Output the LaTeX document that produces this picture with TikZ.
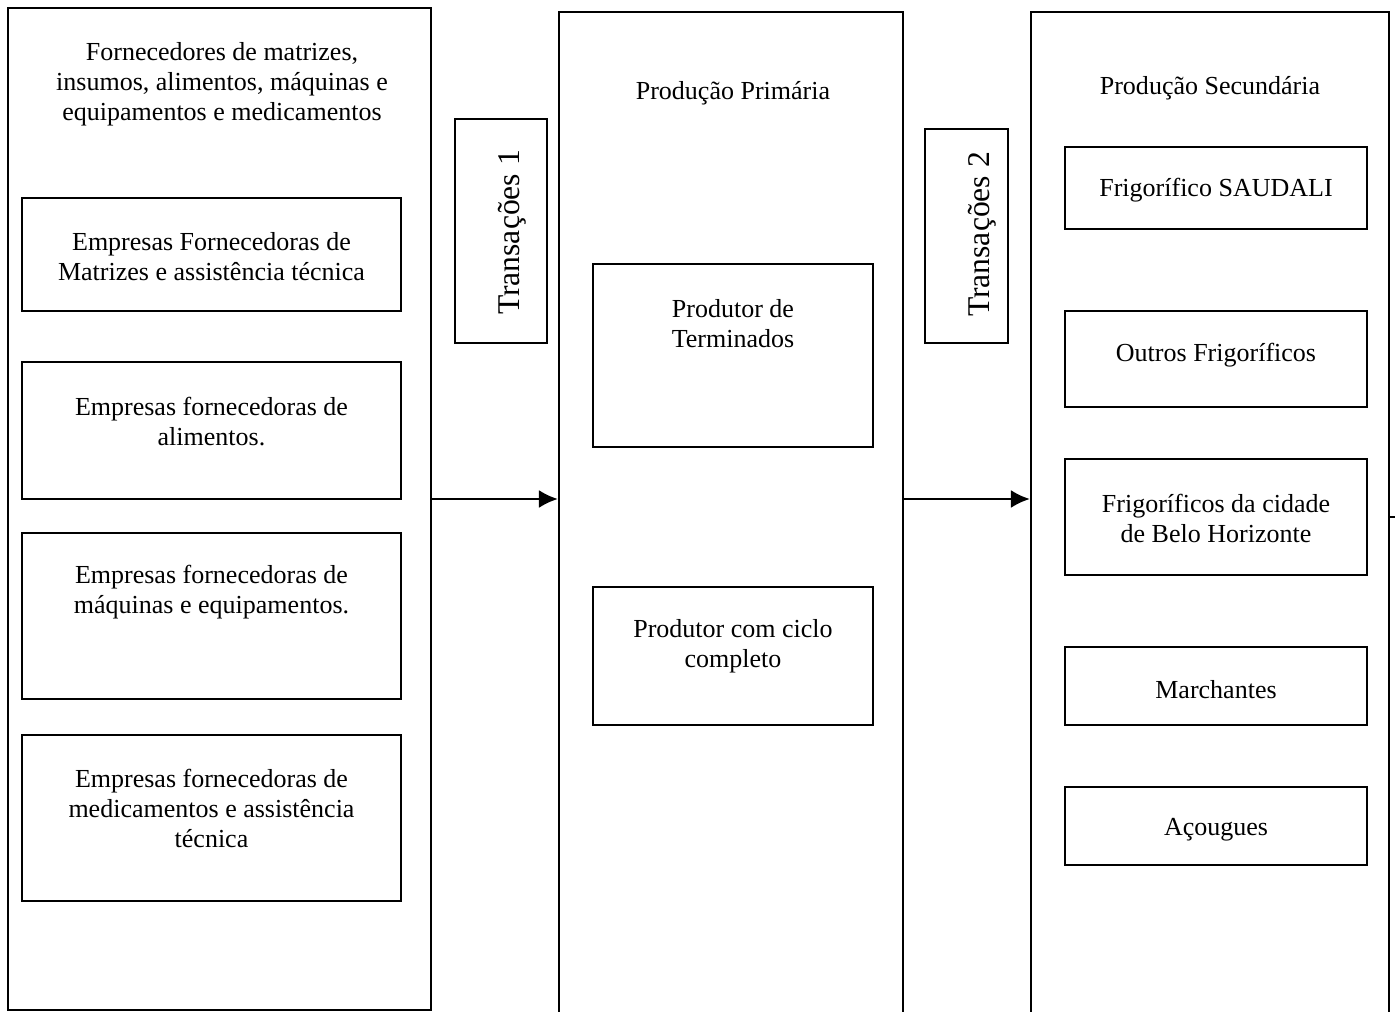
\documentclass[tikz,border=0pt]{standalone}
\usepackage{fontspec}
\setmainfont{Liberation Serif}
\usetikzlibrary{arrows.meta, positioning}

\tikzset{
  coluna/.style={draw, line width=1.2pt, minimum width=#1, inner sep=0pt},
  caixa/.style={draw, line width=1.1pt, inner sep=0pt},
  texto/.style={align=center, inner sep=0pt, font=\fontsize{14.8}{17}\selectfont},
  trans/.style={draw, line width=1.1pt, inner sep=0pt, rotate=90},
  seta/.style={line width=1.5pt, -{Latex[length=3.8mm, width=3.6mm]}}
}

\begin{document}
\begin{tikzpicture}
  \useasboundingbox (0,0) rectangle (27.9,-20.24);

  % colunas
  \node[coluna=8.46cm, minimum height=20.04cm] (forn) at (4.39,-10.18) {};
  \node[coluna=6.88cm, minimum height=20.76cm] (prim) at (14.62,-10.62) {};
  \node[coluna=7.16cm, minimum height=20.76cm] (sec) at (24.2,-10.62) {};

  \node[texto] (fornt) at (4.44,-1.68) {Fornecedores de matrizes,\\insumos, alimentos, máquinas e\\equipamentos e medicamentos};
  \node[texto] (primt) at (14.66,-1.86) {Produção Primária};
  \node[texto] (sect) at (24.2,-1.76) {Produção Secundária};

  % fornecedores
  \node[caixa, minimum width=7.58cm, minimum height=2.26cm] (matr) at (4.23,-5.09) {};
  \node[caixa, minimum width=7.58cm, minimum height=2.74cm] (alim) at (4.23,-8.61) {};
  \node[caixa, minimum width=7.58cm, minimum height=3.32cm] (maq) at (4.23,-12.32) {};
  \node[caixa, minimum width=7.58cm, minimum height=3.32cm] (med) at (4.23,-16.36) {};
  \node[texto] (matrt) at (4.23,-5.14) {Empresas Fornecedoras de\\Matrizes e assistência técnica};
  \node[texto] (alimt) at (4.23,-8.43) {Empresas fornecedoras de\\alimentos.};
  \node[texto] (maqt) at (4.23,-11.85) {Empresas fornecedoras de\\máquinas e equipamentos.};
  \node[texto] (medt) at (4.23,-16.17) {Empresas fornecedoras de\\medicamentos e assistência\\técnica};

  % produtores
  \node[caixa, minimum width=5.6cm, minimum height=3.66cm] (term) at (14.66,-7.11) {};
  \node[caixa, minimum width=5.6cm, minimum height=2.76cm] (ciclo) at (14.66,-13.12) {};
  \node[texto] (termt) at (14.66,-6.47) {Produtor de\\Terminados};
  \node[texto] (ciclot) at (14.66,-12.93) {Produtor com ciclo\\completo};

  % frigorificos
  \node[caixa, minimum width=6.04cm, minimum height=1.64cm] (saud) at (24.32,-3.76) {};
  \node[caixa, minimum width=6.04cm, minimum height=1.92cm] (outr) at (24.32,-7.18) {};
  \node[caixa, minimum width=6.04cm, minimum height=2.32cm] (bh) at (24.32,-10.34) {};
  \node[caixa, minimum width=6.04cm, minimum height=1.56cm] (march) at (24.32,-13.72) {};
  \node[caixa, minimum width=6.04cm, minimum height=1.56cm] (acou) at (24.32,-16.52) {};
  \node[texto] (saudt) at (24.32,-3.8) {Frigorífico SAUDALI};
  \node[texto] (outrt) at (24.32,-7.11) {Outros Frigoríficos};
  \node[texto] (bht) at (24.32,-10.37) {Frigoríficos da cidade\\de Belo Horizonte};
  \node[texto] (marcht) at (24.32,-13.8) {Marchantes};
  \node[texto] (acout) at (24.32,-16.6) {Açougues};

  % transacoes
  \node[trans, minimum width=4.48cm, minimum height=1.84cm] (t1) at (10.02,-4.62) {};
  \node[trans, minimum width=4.28cm, minimum height=1.66cm] (t2) at (19.33,-4.72) {};
  \node[rotate=90, font=\fontsize{18}{20}\selectfont] (t1t) at (10.24,-4.65) {Transações 1};
  \node[rotate=90, font=\fontsize{18}{20}\selectfont] (t2t) at (19.64,-4.69) {Transações 2};

  \coordinate (nivel) at (0,-9.98);
  \coordinate (saida) at (28.3,-10.34);
  \draw[seta] (forn.east |- nivel) -- (prim.west |- nivel);
  \draw[seta] (prim.east |- nivel) -- (sec.west |- nivel);
  \draw[line width=1.1pt] (sec.east |- saida) -- (saida);
\end{tikzpicture}
\end{document}
